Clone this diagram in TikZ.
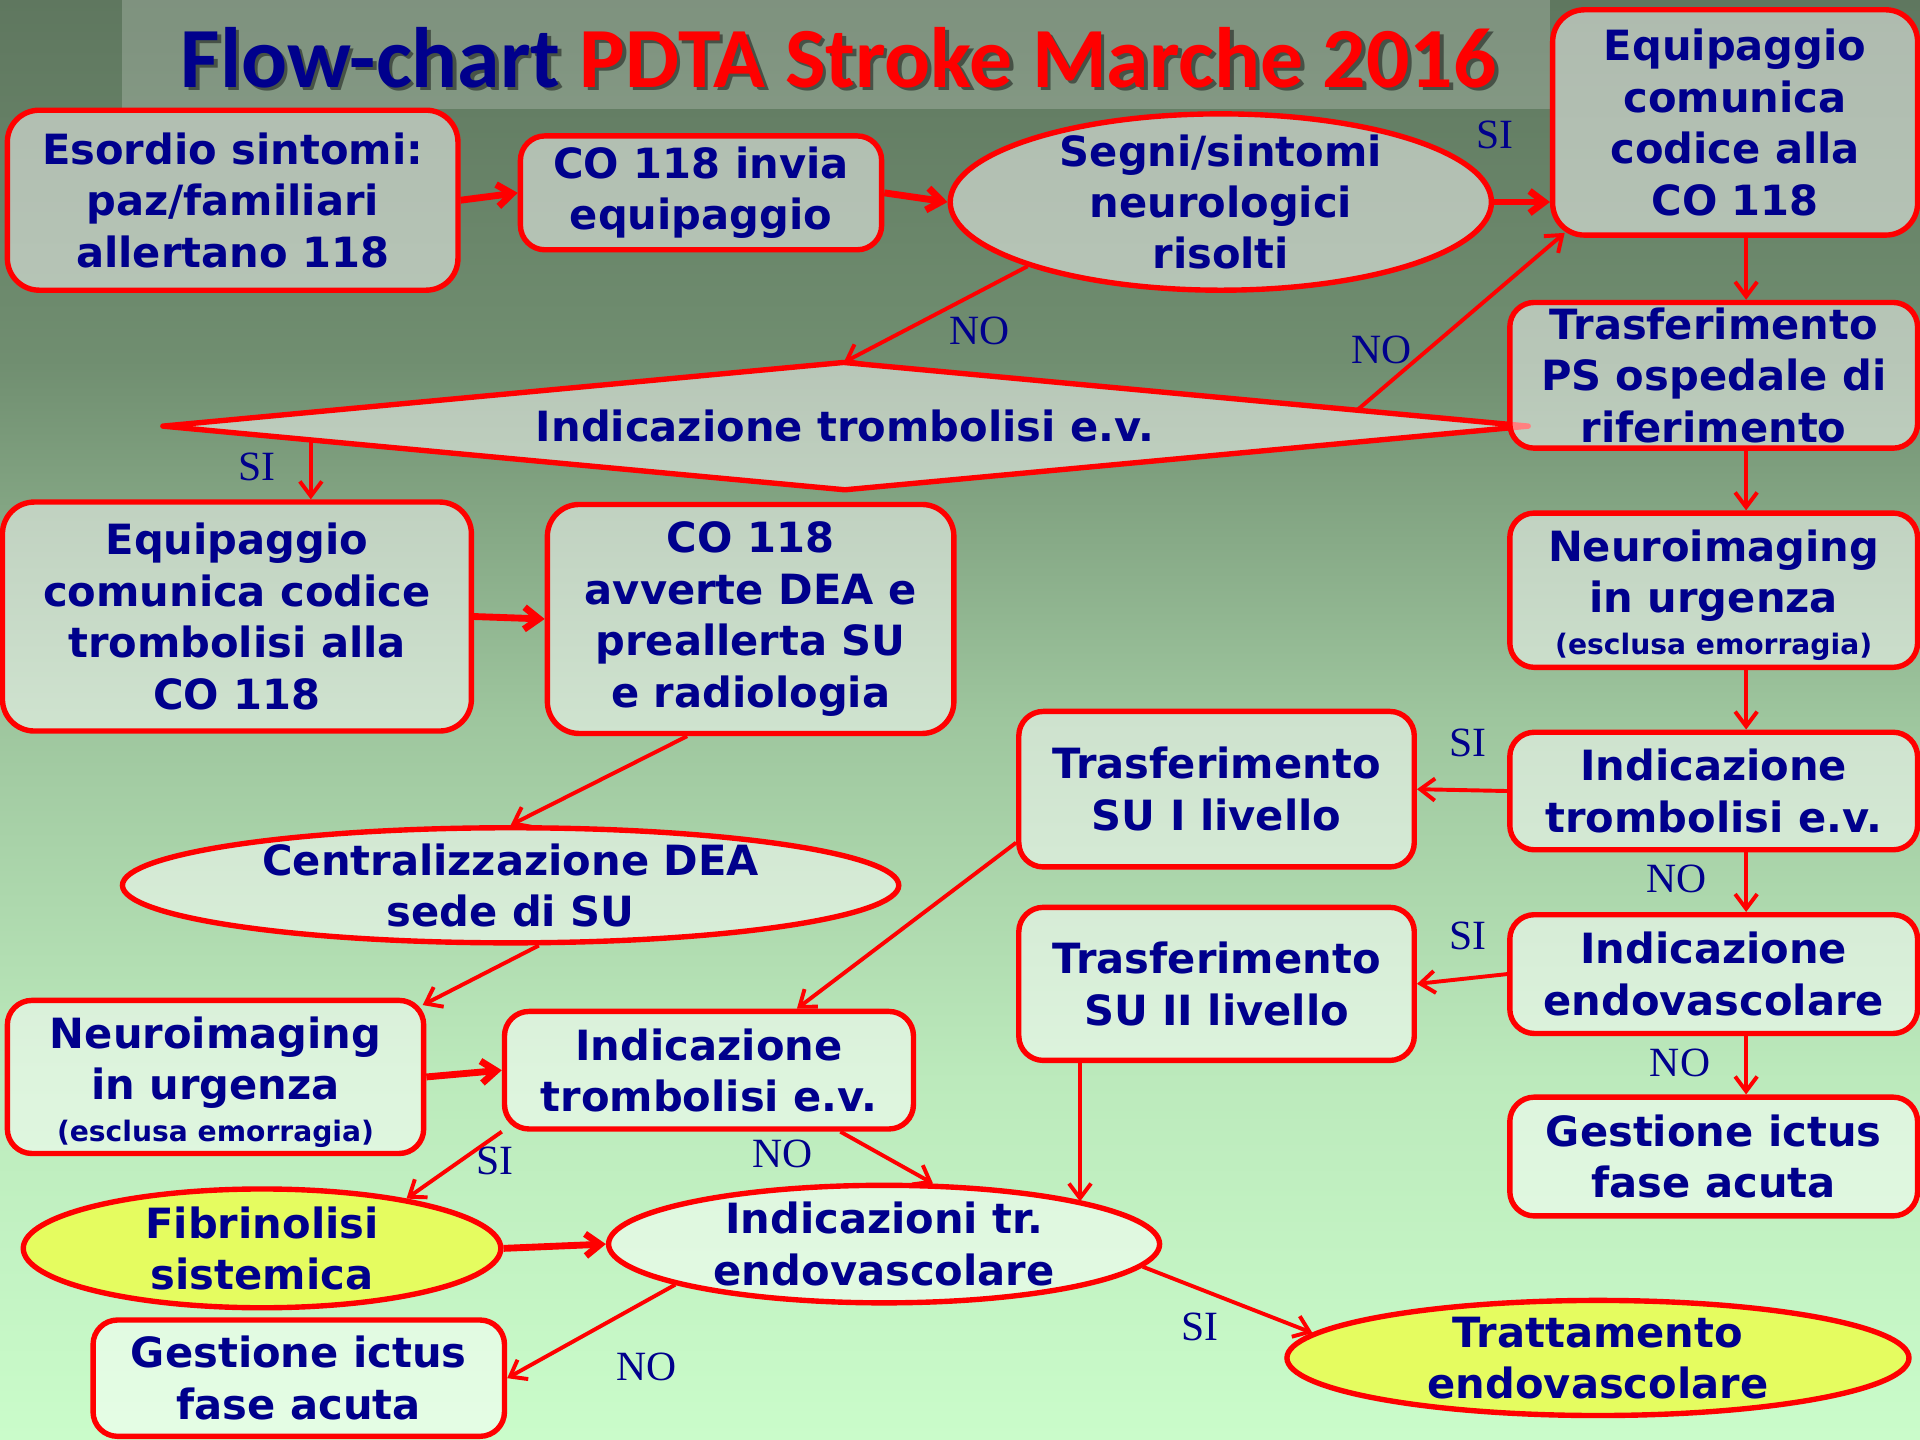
\documentclass[tikz,border=0pt]{standalone}
\usepackage{fontspec}
\usetikzlibrary{arrows.meta,shapes.geometric,calc}
\newfontfamily\boxfont{DejaVu Sans}
\newfontfamily\titlefont{Carlito}
\newfontfamily\lblfont{Liberation Serif}
\definecolor{navy}{RGB}{0,0,140}
\definecolor{yel}{RGB}{229,252,96}
\definecolor{bgtop}{RGB}{95,119,95}
\definecolor{bgq1}{RGB}{112,142,112}
\definecolor{bgmid}{RGB}{158,198,158}
\definecolor{bgq3}{RGB}{188,234,188}
\definecolor{bgbot}{RGB}{202,252,202}
\pgfdeclareverticalshading{bgshade}{100bp}{color(0bp)=(bgbot); color(25bp)=(bgbot); color(37.5bp)=(bgq3); color(50bp)=(bgmid); color(62.5bp)=(bgq1); color(75bp)=(bgtop); color(100bp)=(bgtop)}
\tikzset{
  txt/.style={text=navy, font=\boxfont\bfseries\fontsize{17}{21}\selectfont, align=center, fill opacity=1, text opacity=1, inner sep=0pt},
  box/.style={rectangle, draw=red, line width=2.2pt, fill=white, fill opacity=0.5, text opacity=1, rounded corners=10pt, inner sep=0pt},
  ell/.style={ellipse, draw=red, line width=2.2pt, fill=white, fill opacity=0.5, text opacity=1, inner sep=0pt},
  yell/.style={ell, fill=yel, fill opacity=1},
  con/.style={draw=red, line width=1.6pt, -{Straight Barb[length=6pt,width=9pt]}},
  conb/.style={con, line width=2.8pt},
  lbl/.style={text=navy, font=\lblfont\fontsize{17}{20}\selectfont, inner sep=0pt},
}
\newcommand{\smalltxt}[1]{{\fontsize{11.5}{14}\selectfont #1}}
\begin{document}
\begin{tikzpicture}[x=0.5pt,y=-0.5pt]
\useasboundingbox (0,0) rectangle (1568,1176);
\shade[shading=bgshade] (0,0) rectangle (1568,1176);
\fill[white, opacity=0.2] (100,0) rectangle (1266,89);
% title
\node[font=\titlefont\bfseries\fontsize{35}{40}\selectfont, text=black, opacity=0.45, inner sep=0pt] (titleshadow) at (688,50) {Flow-chart PDTA Stroke Marche 2016};
\node[font=\titlefont\bfseries\fontsize{35}{40}\selectfont, inner sep=0pt] (title) at (685,47) {\textcolor{navy}{Flow-chart} \textcolor{red}{PDTA Stroke Marche 2016}};

% diamond
\coordinate (diaL) at (133,348);
\coordinate (diaT) at (689,296);
\coordinate (diaR) at (1248,348);
\coordinate (diaB) at (690,400);
\draw[draw=red, line width=2.2pt, fill=white, fill opacity=0.5, line join=round] (diaL) -- (diaT) -- (diaR) -- (diaB) -- cycle;
\node[txt] (diatxt) at (690,348) {Indicazione trombolisi e.v.};

% nodes
\node[box, rounded corners=13pt, minimum width=184pt, minimum height=73.5pt, label={[txt]center:Esordio sintomi:\\paz/familiari\\allertano 118}] (esordio) at (190,163.5) {};
\node[box, minimum width=147.5pt, minimum height=46.5pt, label={[txt]center:CO 118 invia\\equipaggio}] (co1) at (572.5,157.5) {};
\node[ell, minimum width=221pt, minimum height=72pt, label={[txt]center:Segni/sintomi\\neurologici\\risolti}] (segni) at (997,165) {};
\node[box, rounded corners=13pt, minimum width=149pt, minimum height=92pt, label={[txt]center:Equipaggio\\comunica\\codice alla\\CO 118}] (eq1) at (1417,100) {};
\node[box, minimum width=166.5pt, minimum height=59.5pt, label={[txt]center:Trasferimento\\PS ospedale di\\riferimento}] (trPS) at (1399.5,306.5) {};
\node[box, rounded corners=13pt, minimum width=191.5pt, minimum height=93.5pt, label={[txt]center:Equipaggio\\comunica codice\\trombolisi alla\\CO 118}] (eqT) at (193.5,503.5) {};
\node[box, rounded corners=13pt, minimum width=166pt, minimum height=93.5pt, label={[txt]center:CO 118\\avverte DEA e\\preallerta SU\\e radiologia}] (co2) at (613,505.5) {};
\node[box, minimum width=166.5pt, minimum height=63pt, label={[txt,yshift=-2pt]center:Neuroimaging\\in urgenza\\[-4pt]\smalltxt{(esclusa emorragia)}}] (neuroR) at (1399.5,482) {};
\node[ell, minimum width=317pt, minimum height=47pt, label={[txt]center:Centralizzazione DEA\\sede di SU}] (central) at (417,723) {};
\node[box, minimum width=161.5pt, minimum height=63.5pt, label={[txt]center:Trasferimento\\SU I livello}] (trasfI) at (993.5,644.5) {};
\node[box, minimum width=166.5pt, minimum height=48pt, label={[txt]center:Indicazione\\trombolisi e.v.}] (trombR) at (1399.5,646) {};
\node[box, minimum width=161.5pt, minimum height=62.5pt, label={[txt]center:Trasferimento\\SU II livello}] (trasfII) at (993.5,803.5) {};
\node[box, minimum width=166.5pt, minimum height=48.5pt, label={[txt]center:Indicazione\\endovascolare}] (endoI) at (1399.5,795.5) {};
\node[box, minimum width=166.5pt, minimum height=48.5pt, label={[txt]center:Gestione ictus\\fase acuta}] (gestR) at (1399.5,944.5) {};
\node[box, minimum width=170pt, minimum height=62.5pt, label={[txt,yshift=-2pt]center:Neuroimaging\\in urgenza\\[-4pt]\smalltxt{(esclusa emorragia)}}] (neuroL) at (176,879.5) {};
\node[box, minimum width=167pt, minimum height=48pt, label={[txt]center:Indicazione\\trombolisi e.v.}] (trombM) at (579,874) {};
\node[yell, minimum width=195pt, minimum height=48.5pt, label={[txt]center:Fibrinolisi\\sistemica}] (fibrin) at (214,1019.5) {};
\node[ell, minimum width=225pt, minimum height=48pt, label={[txt]center:Indicazioni tr.\\endovascolare}] (endo) at (722,1016) {};
\node[box, minimum width=168pt, minimum height=47.5pt, label={[txt]center:Gestione ictus\\fase acuta}] (gestL) at (244,1125.5) {};
\node[yell, minimum width=254pt, minimum height=47pt, label={[txt]center:Trattamento\\endovascolare}] (tratt) at (1305,1109) {};

% connectors
\coordinate (rc) at (1426,0);
\coordinate (sx) at (882,0);
\coordinate (e1) at ($(diaT)!0.75!(diaR)$);
\coordinate (h1) at ($(diaL)!0.217!(diaB)$);
\draw[conb] (esordio.east) -- (co1.west);
\draw[conb] (co1.east) -- (segni.west);
\draw[conb] (segni.east) -- (segni.east -| eq1.west);
\draw[con] (segni.south west) -- (diaT);
\draw[con] (e1) -- ($(eq1.south west)+(12,-4)$);
\draw[con] (eq1.south -| rc) -- (trPS.north -| rc);
\draw[con] (trPS.south -| rc) -- (neuroR.north -| rc);
\draw[con] (h1) -- (h1 |- eqT.north);
\draw[conb] (eqT.east) -- (co2.west);
\draw[con] ($(co2.south west)!0.346!(co2.south east)$) -- (central.north);
\draw[con] ($(central.south)+(23,0)$) -- ($(neuroL.north east)+(-3,6)$);
\draw[conb] (neuroL.east) -- (trombM.west);
\draw[con] ($(trasfI.south west)+(0,-22)$) -- ($(trombM.north west)+(241,0)$);
\draw[con] (neuroR.south -| rc) -- (trombR.north -| rc);
\draw[con] (trombR.west) -- (trasfI.east);
\draw[con] (trombR.south -| rc) -- (endoI.north -| rc);
\draw[con] (endoI.west) -- (trasfII.east);
\draw[con] (endoI.south -| rc) -- (gestR.north -| rc);
\draw[con] (trasfII.south -| sx) -- (sx |- endo.12);
\draw[con] (trombM.south west) -- (fibrin.19);
\draw[con] ($(trombM.south west)!0.817!(trombM.south east)$) -- (endo.51);
\draw[conb] (fibrin.east) -- (endo.west);
\draw[con] (endo.191) -- (gestL.east);
\draw[con] (endo.-5) -- (tratt.175);

% labels
\node[lbl] (si1) at (1221,110) {SI};
\node[lbl] (no1) at (800,270) {NO};
\node[lbl] (no2) at (1128,286) {NO};
\node[lbl] (si2) at (210,381) {SI};
\node[lbl] (si3) at (1199,607) {SI};
\node[lbl] (no3) at (1369,718) {NO};
\node[lbl] (si4) at (1199,764) {SI};
\node[lbl] (no4) at (1372,868) {NO};
\node[lbl] (si5) at (404,948) {SI};
\node[lbl] (no5) at (639,942) {NO};
\node[lbl] (no6) at (528,1116) {NO};
\node[lbl] (si6) at (980,1084) {SI};
\end{tikzpicture}
\end{document}
